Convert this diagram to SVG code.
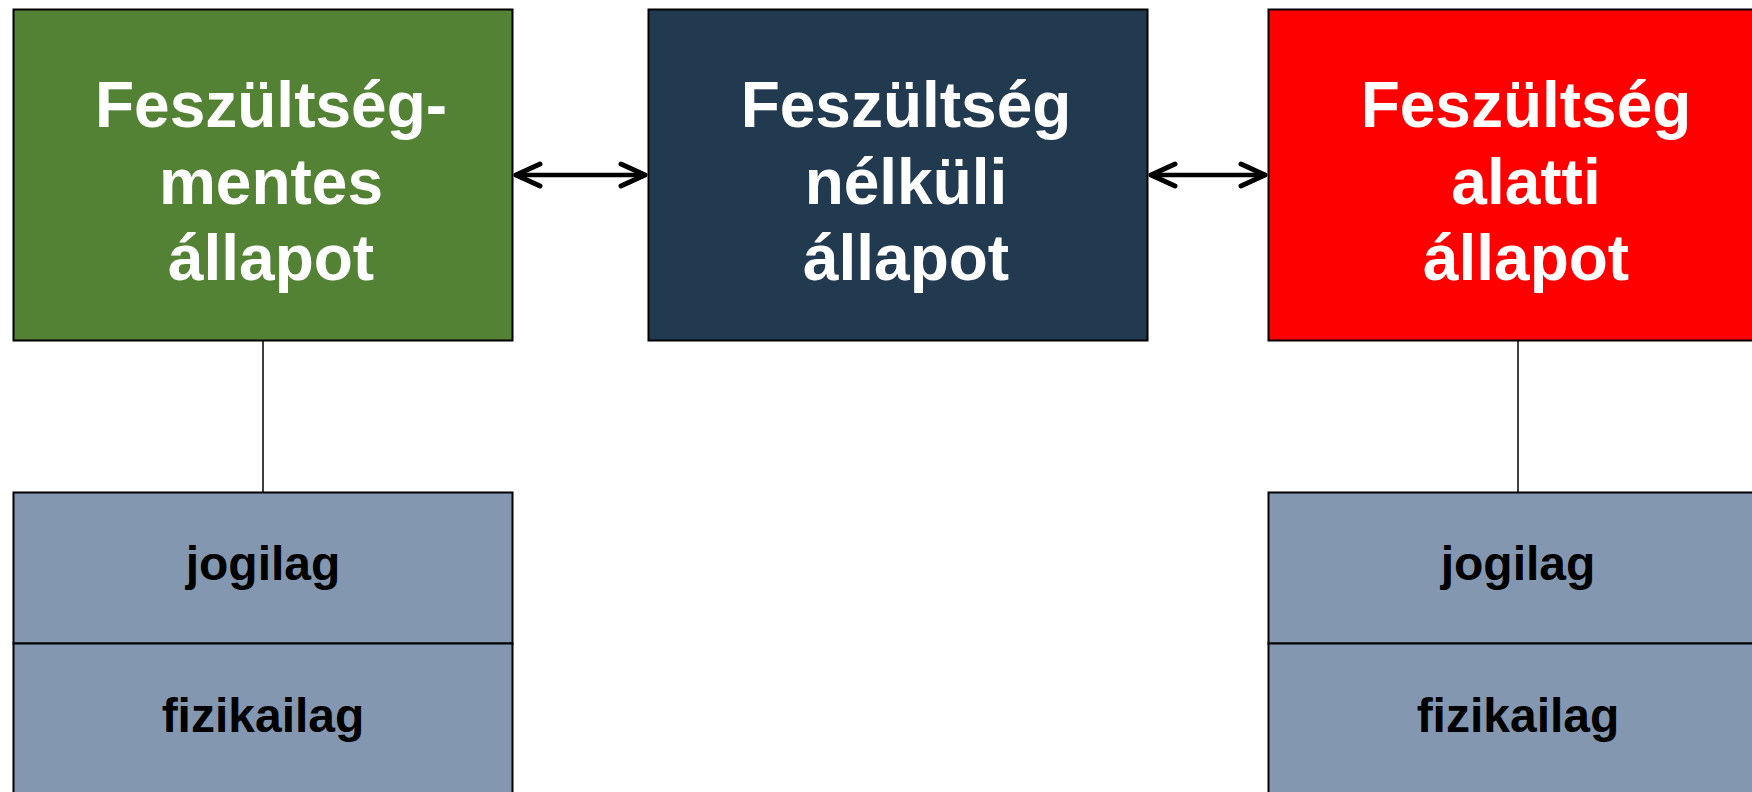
<svg xmlns="http://www.w3.org/2000/svg" width="1752" height="792" viewBox="0 0 1752 792">
  <style>
    .box { stroke: #000; stroke-width: 2; }
    .title { font-family: "Liberation Sans", Arial, sans-serif; font-weight: bold; font-size: 64px; fill: #fff; text-anchor: middle; }
    .sub { font-family: "Liberation Sans", Arial, sans-serif; font-weight: bold; font-size: 48px; fill: #000; text-anchor: middle; }
    .link { stroke: #000; stroke-width: 1.5; fill: none; }
    .arrow { stroke: #000; stroke-width: 4.5; fill: none; stroke-linecap: round; stroke-linejoin: round; }
  </style>
  <defs>
    <marker id="head" viewBox="-28 -14 32 28" markerWidth="32" markerHeight="28" refX="0" refY="0" orient="auto-start-reverse" markerUnits="userSpaceOnUse">
      <path d="M -24 -11 L 0 0 L -24 11" fill="none" stroke="#000" stroke-width="5" stroke-linecap="round" stroke-linejoin="round"/>
    </marker>
  </defs>
  <rect width="1752" height="792" fill="#fff"/>

  <!-- connectors -->
  <g id="connectors">
    <line class="link" x1="263" y1="341" x2="263" y2="492"/>
    <line class="link" x1="1518" y1="341" x2="1518" y2="492"/>
    <line class="arrow" x1="516" y1="175" x2="645" y2="175" marker-start="url(#head)" marker-end="url(#head)"/>
    <line class="arrow" x1="1151" y1="175" x2="1265" y2="175" marker-start="url(#head)" marker-end="url(#head)"/>
  </g>

  <g id="node-mentes">
    <rect class="box" x="13.5" y="9.5" width="499" height="331" fill="#548235"/>
    <text class="title" x="271" y="127">Feszültség-</text>
    <text class="title" x="271" y="203.5">mentes</text>
    <text class="title" x="271" y="280">állapot</text>
  </g>

  <g id="node-nelkuli">
    <rect class="box" x="648.5" y="9.5" width="499" height="331" fill="#223A4F"/>
    <text class="title" x="906" y="127">Feszültség</text>
    <text class="title" x="906" y="203.5">nélküli</text>
    <text class="title" x="906" y="280">állapot</text>
  </g>

  <g id="node-alatti">
    <rect class="box" x="1268.5" y="9.5" width="499" height="331" fill="#FF0000"/>
    <text class="title" x="1526" y="127">Feszültség</text>
    <text class="title" x="1526" y="203.5">alatti</text>
    <text class="title" x="1526" y="280">állapot</text>
  </g>

  <g id="node-mentes-jogilag">
    <rect class="box" x="13.5" y="492.5" width="499" height="151" fill="#8497B0"/>
    <text class="sub" x="263" y="580">jogilag</text>
  </g>
  <g id="node-mentes-fizikailag">
    <rect class="box" x="13.5" y="643.5" width="499" height="160" fill="#8497B0"/>
    <text class="sub" x="263" y="732">fizikailag</text>
  </g>

  <g id="node-alatti-jogilag">
    <rect class="box" x="1268.5" y="492.5" width="499" height="151" fill="#8497B0"/>
    <text class="sub" x="1518" y="580">jogilag</text>
  </g>
  <g id="node-alatti-fizikailag">
    <rect class="box" x="1268.5" y="643.5" width="499" height="160" fill="#8497B0"/>
    <text class="sub" x="1518" y="732">fizikailag</text>
  </g>
</svg>
